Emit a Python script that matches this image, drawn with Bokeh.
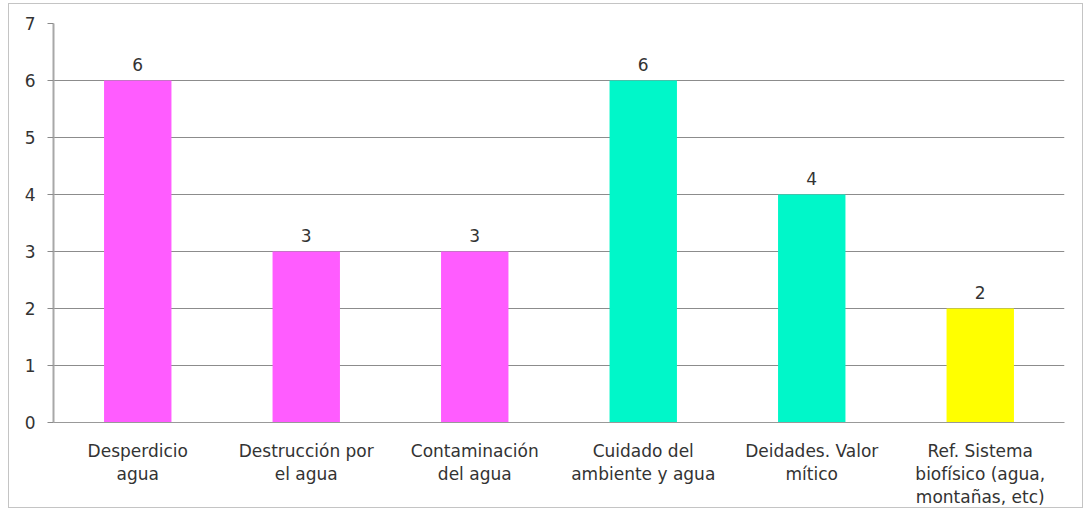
from bokeh.plotting import figure
from bokeh.models import ColumnDataSource, LabelSet, FactorRange, Range1d, SingleIntervalTicker
from bokeh.core.properties import value
from bokeh.embed import file_html
from bokeh.resources import INLINE

# Categories (multi-line tick labels), counts per category and bar colours
categories = [
    "Desperdicio\nagua",
    "Destrucción por\nel agua",
    "Contaminación\ndel agua",
    "Cuidado del\nambiente y agua",
    "Deidades. Valor\nmítico",
    "Ref. Sistema\nbiofísico (agua,\nmontañas, etc)",
]
values = [6, 3, 3, 6, 4, 2]
bar_colors = ["#ff5cff", "#ff5cff", "#ff5cff", "#00f7c9", "#00f7c9", "#ffff00"]
y_ticks = [0, 1, 2, 3, 4, 5, 6, 7]

source = ColumnDataSource(dict(
    cat=categories,
    val=values,
    color=bar_colors,
    label=[str(v) for v in values],
))

FONT = "DejaVu Sans"
TEXT_COLOR = "#333333"

p = figure(
    x_range=FactorRange(*categories),
    y_range=Range1d(y_ticks[0], y_ticks[-1]),
    width=1075, height=505,
    output_backend="svg", toolbar_location=None,
    min_border_left=44, min_border_right=20,
    min_border_top=19, min_border_bottom=80,
)
p.margin = (3, 4, 4, 8)
p.styles = {"border": "1px solid #c4c4c4"}
p.outline_line_color = None
p.background_fill_color = "white"
p.border_fill_color = "white"

p.vbar(x="cat", top="val", width=0.4, color="color", line_color=None, source=source)

labels = LabelSet(
    x="cat", y="val", text="label", source=source,
    y_offset=10, text_align="center", text_baseline="bottom",
    text_font=value(FONT), text_font_size="17px", text_color=TEXT_COLOR,
)
p.add_layout(labels)

# y axis
p.yaxis.ticker = SingleIntervalTicker(interval=1)
p.yaxis.axis_line_color = "#a8a8a8"
p.yaxis.axis_line_width = 2
p.yaxis.major_tick_line_color = "#8a8a8a"
p.yaxis.major_tick_in = 0
p.yaxis.major_tick_out = 6
p.yaxis.minor_tick_line_color = None
p.yaxis.major_label_standoff = 12
p.yaxis.major_label_text_font = FONT
p.yaxis.major_label_text_font_size = "17px"
p.yaxis.major_label_text_color = TEXT_COLOR

# x axis
p.xaxis.axis_line_color = "#999999"
p.xaxis.axis_line_width = 1
p.xaxis.major_tick_line_color = None
p.xaxis.minor_tick_line_color = None
p.xaxis.major_label_standoff = 12
p.xaxis.major_label_text_font = FONT
p.xaxis.major_label_text_font_size = "17px"
p.xaxis.major_label_text_color = TEXT_COLOR
p.xaxis.major_label_text_line_height = 1.15

# grid
p.xgrid.grid_line_color = None
p.ygrid.grid_line_color = "#8c8c8c"
p.ygrid.grid_line_width = 1

open("out.html", "w").write(file_html(p, INLINE))
